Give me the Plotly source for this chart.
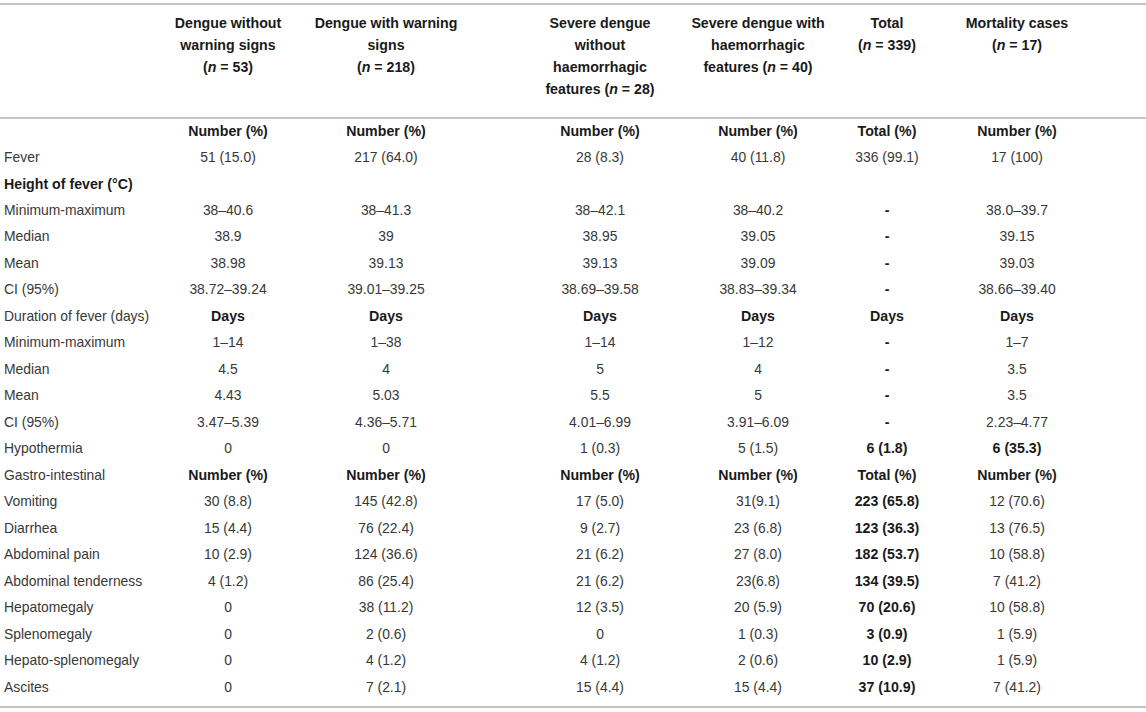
import plotly.graph_objects as go

# ---- table content ----
col_headers = [
    ["Dengue without", "warning signs", "(<i>n</i> = 53)"],
    ["Dengue with warning", "signs", "(<i>n</i> = 218)"],
    ["Severe dengue", "without", "haemorrhagic", "features (<i>n</i> = 28)"],
    ["Severe dengue with", "haemorrhagic", "features (<i>n</i> = 40)"],
    ["Total", "(<i>n</i> = 339)"],
    ["Mortality cases", "(<i>n</i> = 17)"],
]

row_labels = [
    "", "Fever", "Height of fever (°C)", "Minimum-maximum", "Median", "Mean", "CI (95%)",
    "Duration of fever (days)", "Minimum-maximum", "Median", "Mean", "CI (95%)",
    "Hypothermia", "Gastro-intestinal", "Vomiting", "Diarrhea", "Abdominal pain",
    "Abdominal tenderness", "Hepatomegaly", "Splenomegaly", "Hepato-splenomegaly", "Ascites",
]

dengue_no_warning = [
    "Number (%)", "51 (15.0)", "", "38–40.6", "38.9", "38.98", "38.72–39.24",
    "Days", "1–14", "4.5", "4.43", "3.47–5.39", "0", "Number (%)",
    "30 (8.8)", "15 (4.4)", "10 (2.9)", "4 (1.2)", "0", "0", "0", "0",
]
dengue_warning = [
    "Number (%)", "217 (64.0)", "", "38–41.3", "39", "39.13", "39.01–39.25",
    "Days", "1–38", "4", "5.03", "4.36–5.71", "0", "Number (%)",
    "145 (42.8)", "76 (22.4)", "124 (36.6)", "86 (25.4)", "38 (11.2)", "2 (0.6)", "4 (1.2)", "7 (2.1)",
]
severe_no_haem = [
    "Number (%)", "28 (8.3)", "", "38–42.1", "38.95", "39.13", "38.69–39.58",
    "Days", "1–14", "5", "5.5", "4.01–6.99", "1 (0.3)", "Number (%)",
    "17 (5.0)", "9 (2.7)", "21 (6.2)", "21 (6.2)", "12 (3.5)", "0", "4 (1.2)", "15 (4.4)",
]
severe_haem = [
    "Number (%)", "40 (11.8)", "", "38–40.2", "39.05", "39.09", "38.83–39.34",
    "Days", "1–12", "4", "5", "3.91–6.09", "5 (1.5)", "Number (%)",
    "31(9.1)", "23 (6.8)", "27 (8.0)", "23(6.8)", "20 (5.9)", "1 (0.3)", "2 (0.6)", "15 (4.4)",
]
total = [
    "Total (%)", "336 (99.1)", "", "-", "-", "-", "-",
    "Days", "-", "-", "-", "-", "6 (1.8)", "Total (%)",
    "223 (65.8)", "123 (36.3)", "182 (53.7)", "134 (39.5)", "70 (20.6)", "3 (0.9)", "10 (2.9)", "37 (10.9)",
]
mortality = [
    "Number (%)", "17 (100)", "", "38.0–39.7", "39.15", "39.03", "38.66–39.40",
    "Days", "1–7", "3.5", "3.5", "2.23–4.77", "6 (35.3)", "Number (%)",
    "12 (70.6)", "13 (76.5)", "10 (58.8)", "7 (41.2)", "10 (58.8)", "1 (5.9)", "1 (5.9)", "7 (41.2)",
]

columns = [dengue_no_warning, dengue_warning, severe_no_haem, severe_haem, total, mortality]

# ---- layout constants ----
W, H = 1146, 712
col_x = [228, 386, 600, 758, 887, 1017]   # column centres (px)
label_x = 4
row0_px, row_step = 132, 26.48            # first body row / row pitch (px)
header_px, header_step = 24, 22
FONT = "Liberation Sans, Arial, Helvetica, sans-serif"
FS_REG = 13.9
FS_BOLD = 14.2
REG = "#383838"
BOLD = "#1a1a1a"
RULE = "#c4c4c4"


def px_to_row(p):
    return (p - row0_px) / row_step


section_rows = {0, 7, 13}                 # sub-header rows, values bold
bold_labels = {2}


def bold_cell(ci, ri):
    if ri in section_rows:
        return True
    if ci == 4 and ri >= 3:              # total column summary
        return True
    if ci == 5 and ri == 12:
        return True
    return False


def text_trace(xs, ys, texts, bold_flags, pos):
    return go.Scatter(
        x=xs, y=ys, mode="text",
        text=[f"<b>{t}</b>" if b and t else t for t, b in zip(texts, bold_flags)],
        textposition=pos,
        textfont=dict(family=FONT,
                      size=[FS_BOLD if b else FS_REG for b in bold_flags],
                      color=[BOLD if b else REG for b in bold_flags]),
        hoverinfo="skip", showlegend=False,
    )


fig = go.Figure()

# row labels
n_rows = len(row_labels)
fig.add_trace(text_trace([label_x] * n_rows, list(range(n_rows)), row_labels,
                         [i in bold_labels for i in range(n_rows)], "middle right"))

# value columns
for ci, vals in enumerate(columns):
    fig.add_trace(text_trace([col_x[ci]] * len(vals), list(range(len(vals))), vals,
                             [bold_cell(ci, ri) for ri in range(len(vals))], "middle center"))

# column headers (lines stacked downward from the top)
for ci, lines in enumerate(col_headers):
    ys = [px_to_row(header_px + header_step * j) for j in range(len(lines))]
    fig.add_trace(text_trace([col_x[ci]] * len(lines), ys, lines,
                             [True] * len(lines), "middle center"))

# horizontal rules
for p in (4, 118, 707):
    fig.add_shape(type="line", xref="x", yref="y", x0=0, x1=W,
                  y0=px_to_row(p), y1=px_to_row(p),
                  line=dict(color=RULE, width=2))

fig.update_layout(
    width=W, height=H,
    margin=dict(l=0, r=0, t=0, b=0),
    paper_bgcolor="white", plot_bgcolor="white",
    xaxis=dict(range=[0, W], visible=False, fixedrange=True),
    yaxis=dict(range=[px_to_row(H), px_to_row(0)], visible=False, fixedrange=True),
)

fig.write_html("out.html", config={"displayModeBar": False},
               post_script="document.body.style.margin='0';document.body.style.overflow='hidden';")
